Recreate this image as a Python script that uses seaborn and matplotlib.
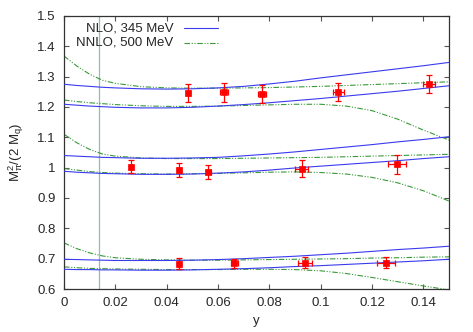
import numpy as np
import pandas as pd
import matplotlib
matplotlib.use("Agg")
import matplotlib.pyplot as plt
import seaborn as sns

# curve sample points
y_grid = [0, 0.005, 0.01, 0.015, 0.02, 0.03, 0.04, 0.05, 0.06, 0.07,
          0.08, 0.09, 0.10, 0.11, 0.12, 0.13, 0.14, 0.15]

nlo_top_hi = [1.275, 1.271, 1.268, 1.265, 1.263, 1.260, 1.259, 1.260, 1.263, 1.268,
              1.276, 1.285, 1.296, 1.306, 1.316, 1.326, 1.336, 1.347]
nlo_top_lo = [1.209, 1.206, 1.203, 1.201, 1.199, 1.197, 1.197, 1.199, 1.203, 1.208,
              1.214, 1.221, 1.228, 1.236, 1.244, 1.252, 1.261, 1.270]
nlo_mid_hi = [1.040, 1.038, 1.036, 1.034, 1.033, 1.031, 1.031, 1.032, 1.034, 1.039,
              1.045, 1.052, 1.060, 1.068, 1.076, 1.085, 1.093, 1.102]
nlo_mid_lo = [0.988, 0.985, 0.983, 0.981, 0.980, 0.978, 0.978, 0.979, 0.982, 0.986,
              0.992, 0.999, 1.005, 1.011, 1.017, 1.023, 1.030, 1.036]
nlo_bot_hi = [0.698, 0.697, 0.696, 0.695, 0.694, 0.694, 0.694, 0.695, 0.697, 0.700,
              0.704, 0.708, 0.713, 0.718, 0.724, 0.730, 0.735, 0.741]
nlo_bot_lo = [0.665, 0.664, 0.664, 0.663, 0.663, 0.662, 0.662, 0.663, 0.665, 0.667,
              0.670, 0.674, 0.677, 0.681, 0.685, 0.689, 0.693, 0.698]

nnlo_top_hi = [1.368, 1.335, 1.308, 1.288, 1.278, 1.267, 1.263, 1.262, 1.262, 1.263,
               1.264, 1.266, 1.268, 1.271, 1.274, 1.277, 1.280, 1.283]
nnlo_top_lo = [1.223, 1.218, 1.214, 1.211, 1.208, 1.204, 1.202, 1.202, 1.203, 1.205,
               1.207, 1.209, 1.209, 1.203, 1.188, 1.160, 1.124, 1.091]
nnlo_mid_hi = [1.110, 1.082, 1.060, 1.045, 1.038, 1.032, 1.030, 1.030, 1.030, 1.031,
               1.032, 1.033, 1.034, 1.036, 1.038, 1.040, 1.042, 1.044]
nnlo_mid_lo = [0.997, 0.992, 0.987, 0.984, 0.982, 0.980, 0.979, 0.980, 0.981, 0.983,
               0.985, 0.986, 0.984, 0.979, 0.968, 0.950, 0.924, 0.890]
nnlo_bot_hi = [0.752, 0.733, 0.719, 0.709, 0.703, 0.698, 0.696, 0.695, 0.695, 0.696,
               0.697, 0.698, 0.699, 0.700, 0.702, 0.703, 0.705, 0.706]
nnlo_bot_lo = [0.673, 0.670, 0.668, 0.667, 0.666, 0.665, 0.664, 0.664, 0.664, 0.665,
               0.665, 0.664, 0.660, 0.651, 0.638, 0.624, 0.610, 0.597]

# lattice data points
pt_x = [0.0484, 0.0624, 0.0771, 0.1069, 0.1422,
        0.0260, 0.0449, 0.0562, 0.0926, 0.1296,
        0.0448, 0.0664, 0.0939, 0.1254]
pt_y = [1.245, 1.248, 1.243, 1.250, 1.276,
        1.003, 0.992, 0.985, 0.997, 1.0105,
        0.684, 0.685, 0.687, 0.687]
pt_xerr = [0.0005, 0.0016, 0.0017, 0.0020, 0.0022,
           0.0004, 0.0005, 0.0010, 0.0025, 0.0035,
           0.0005, 0.0012, 0.0026, 0.0035]
pt_yerr = [0.030, 0.030, 0.030, 0.030, 0.031,
           0.022, 0.024, 0.024, 0.027, 0.032,
           0.018, 0.015, 0.019, 0.019]

y_phys = 0.01375

x_ticks = [0, 0.02, 0.04, 0.06, 0.08, 0.1, 0.12, 0.14]
x_ticklabels = ["0", "0.02", "0.04", "0.06", "0.08", "0.1", "0.12", "0.14"]
y_ticks = [0.6, 0.7, 0.8, 0.9, 1.0, 1.1, 1.2, 1.3, 1.4, 1.5]
y_ticklabels = ["0.6", "0.7", "0.8", "0.9", "1", "1.1", "1.2", "1.3", "1.4", "1.5"]

sns.set_theme(style="ticks")
plt.rcParams['font.family'] = ['Liberation Sans', 'DejaVu Sans']
plt.rcParams['mathtext.fontset'] = 'custom'
plt.rcParams['mathtext.rm'] = 'Liberation Sans'
plt.rcParams['mathtext.it'] = 'Liberation Sans'

blue = "#3a3aee"
green = "#3a9a3a"
green_ls = (0, (5, 1.5, 1, 1.5, 1, 1.5))
lw = 0.8

fig = plt.figure(figsize=(4.73, 3.32), dpi=100)
ax = fig.add_axes([64 / 473, 1 - 289 / 332, 385 / 473, 273 / 332])

ax.axvline(y_phys, color="#8fbcbc", lw=0.9, zorder=1)

for curve in [nlo_top_hi, nlo_top_lo, nlo_mid_hi, nlo_mid_lo, nlo_bot_hi, nlo_bot_lo]:
    sns.lineplot(x=y_grid, y=curve, ax=ax, color=blue, lw=lw, zorder=3)
for curve in [nnlo_top_hi, nnlo_top_lo, nnlo_mid_hi, nnlo_mid_lo, nnlo_bot_hi, nnlo_bot_lo]:
    sns.lineplot(x=y_grid, y=curve, ax=ax, color=green, lw=lw, linestyle=green_ls, zorder=2)

ax.errorbar(pt_x, pt_y, xerr=pt_xerr, yerr=pt_yerr, fmt="none", ecolor="red",
            elinewidth=0.9, capsize=2.5, capthick=0.9, zorder=4)
sns.scatterplot(x=pt_x, y=pt_y, ax=ax, color="red", marker="s", s=20,
                edgecolor="red", linewidth=0.5, zorder=5)

# legend, gnuplot style: right-aligned text with sample on the right
ax.text(0.285, 0.955, "NLO, 345 MeV", transform=ax.transAxes, ha="right",
        va="center", fontsize=9.5)
ax.text(0.285, 0.902, "NNLO, 500 MeV", transform=ax.transAxes, ha="right",
        va="center", fontsize=9.5)
ax.plot([0.311, 0.40], [0.955, 0.955], transform=ax.transAxes, color=blue, lw=lw)
ax.plot([0.311, 0.40], [0.902, 0.902], transform=ax.transAxes, color=green, lw=lw,
        linestyle=green_ls)

ax.set_xlim(0, 0.15)
ax.set_ylim(0.6, 1.5)
ax.set_xticks(x_ticks)
ax.set_xticklabels(x_ticklabels)
ax.set_yticks(y_ticks)
ax.set_yticklabels(y_ticklabels)
ax.tick_params(direction="in", length=3.5, width=0.8, color="#555555",
               top=True, right=True, labelsize=9.5, pad=6)
for s in ax.spines.values():
    s.set_color("#333333")
    s.set_linewidth(0.9)

ax.set_xlabel("y", fontsize=9.5, labelpad=4)
ax.set_ylabel(r"M$_\pi^2$/(2 M$_\mathrm{q}$)", fontsize=9.5, labelpad=8)

fig.savefig("out.png", dpi=100)
